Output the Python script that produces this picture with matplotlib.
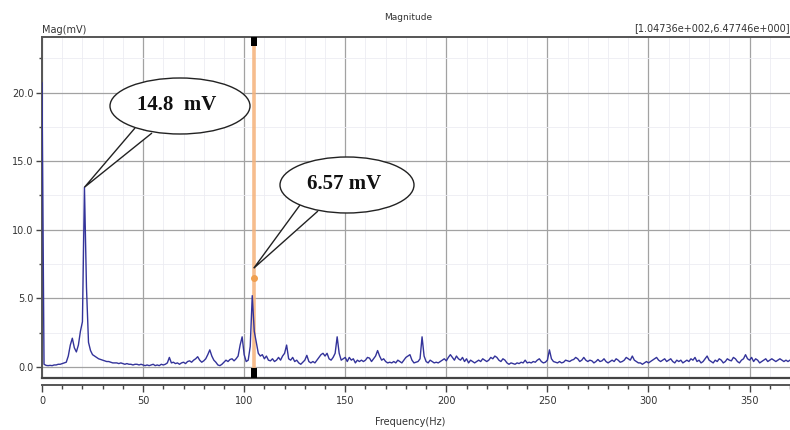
import numpy as np
import matplotlib
matplotlib.use("Agg")
import matplotlib.pyplot as plt
from matplotlib.patches import Ellipse, Polygon, Rectangle
from matplotlib.ticker import MultipleLocator
from matplotlib.transforms import blended_transform_factory

# ---- data ----
freq_step_hz = 1.0
mag_mv = [
    20.7, 0.2, 0.12, 0.1, 0.12, 0.1, 0.15, 0.15, 0.2, 0.2,
    0.25, 0.3, 0.35, 0.8, 1.6, 2.1, 1.4, 1.1, 1.6, 2.6,
    3.3, 13.1, 5.8, 1.8, 1.2, 0.9, 0.8, 0.7, 0.6, 0.55,
    0.5, 0.45, 0.4, 0.4, 0.35, 0.3, 0.3, 0.3, 0.25, 0.3,
    0.25, 0.2, 0.25, 0.2, 0.2, 0.15, 0.2, 0.2, 0.15, 0.2,
    0.15, 0.1, 0.15, 0.1, 0.15, 0.2, 0.1, 0.15, 0.1, 0.2,
    0.15, 0.2, 0.3, 0.7, 0.3, 0.35, 0.25, 0.3, 0.2, 0.3,
    0.35, 0.25, 0.4, 0.45, 0.35, 0.5, 0.6, 0.75, 0.5, 0.35,
    0.45, 0.6, 0.9, 1.25, 0.8, 0.5, 0.35, 0.15, 0.1, 0.2,
    0.35, 0.5, 0.4, 0.55, 0.6, 0.45, 0.6, 0.8, 1.6, 2.2,
    0.9, 0.4, 0.5, 1.5, 5.2, 2.6, 1.8, 1.0, 0.8, 0.9,
    0.6, 0.8, 0.5, 0.45, 0.6, 0.4, 0.5, 0.7, 0.5, 0.8,
    1.0, 1.6, 0.6, 0.5, 0.7, 0.4, 0.5, 0.3, 0.2, 0.35,
    0.5, 0.85, 0.4, 0.3, 0.4, 0.3, 0.5, 0.7, 0.9, 1.0,
    0.8, 1.0, 0.6, 0.5, 0.7, 1.0, 2.2, 1.0, 0.5, 0.6,
    0.7, 0.4, 0.7, 0.5, 0.6, 0.3, 0.5, 0.4, 0.5, 0.4,
    0.5, 0.7, 0.65, 0.4, 0.6, 0.8, 1.2, 0.8, 0.5, 0.6,
    0.4, 0.3, 0.35, 0.3, 0.4, 0.3, 0.5, 0.4, 0.3, 0.5,
    0.7, 0.8, 0.9, 0.5, 0.3, 0.35, 0.4, 0.6, 2.2, 0.8,
    0.4, 0.3, 0.5, 0.4, 0.3, 0.35, 0.3, 0.4, 0.5, 0.6,
    0.45, 0.7, 0.9, 0.7, 0.5, 0.8, 0.6, 0.5, 0.7, 0.4,
    0.6, 0.3, 0.5, 0.4, 0.3, 0.4, 0.5, 0.4, 0.6, 0.5,
    0.4, 0.5, 0.7, 0.6, 0.8, 0.7, 0.5, 0.4, 0.6, 0.5,
    0.3, 0.2, 0.3, 0.25, 0.2, 0.3, 0.25, 0.35, 0.3, 0.5,
    0.3, 0.35, 0.3, 0.4, 0.35, 0.5, 0.6, 0.4, 0.3, 0.35,
    0.5, 1.25, 0.6, 0.4, 0.35, 0.3, 0.4, 0.3, 0.35, 0.5,
    0.45, 0.4, 0.5, 0.55, 0.7, 0.6, 0.4, 0.5, 0.7, 0.5,
    0.4, 0.5, 0.45, 0.3, 0.4, 0.55, 0.4, 0.45, 0.6, 0.4,
    0.3, 0.4, 0.5, 0.4, 0.6, 0.5, 0.35, 0.4, 0.5, 0.7,
    0.6, 0.5, 0.8, 0.5, 0.4, 0.3, 0.3, 0.2, 0.3, 0.4,
    0.3, 0.4, 0.5, 0.6, 0.7, 0.5, 0.4, 0.5, 0.6, 0.4,
    0.5, 0.6, 0.4, 0.3, 0.5, 0.4, 0.5, 0.3, 0.4, 0.5,
    0.4, 0.6, 0.5, 0.7, 0.4, 0.5, 0.3, 0.4, 0.6, 0.8,
    0.5, 0.4, 0.3, 0.5, 0.4, 0.6, 0.5, 0.3, 0.4, 0.6,
    0.5, 0.45, 0.7, 0.6, 0.4, 0.3, 0.5, 0.6, 0.9, 0.6,
    0.5, 0.7, 0.4, 0.6, 0.5, 0.3, 0.4, 0.5, 0.6, 0.4,
    0.5, 0.6, 0.5, 0.4, 0.5, 0.6, 0.5, 0.4, 0.5, 0.4,
    0.5,
]
freq_hz = np.arange(len(mag_mv)) * freq_step_hz

cursor_x = 104.736
cursor_y = 6.47746
callout1_point = (21.0, 13.1)
callout1_text = "14.8  mV"
callout2_point = cursor_x
callout2_text = "6.57 mV"
x_ticks = [0, 50, 100, 150, 200, 250, 300, 350]
y_ticks = [0.0, 5.0, 10.0, 15.0, 20.0]

W, H = 790, 430
fig = plt.figure(figsize=(W / 100, H / 100), dpi=100)
fig.patch.set_facecolor("white")

ax = fig.add_axes([42 / W, 1 - 378 / H, (W - 42) / W, (378 - 37) / H])
ax.set_xlim(0, 370)
ax.set_ylim(-0.8, 24.05)

# grid
ax.xaxis.set_major_locator(MultipleLocator(50))
ax.xaxis.set_minor_locator(MultipleLocator(10))
ax.yaxis.set_major_locator(MultipleLocator(5))
ax.yaxis.set_minor_locator(MultipleLocator(2.5))
ax.grid(which="major", color="#a2a2a2", lw=0.9)
ax.grid(which="minor", color="#ececf2", lw=0.6)
ax.set_axisbelow(True)

ax.set_xticks(x_ticks)
ax.set_xticklabels([str(v) for v in x_ticks])
ax.set_yticks(y_ticks)
ax.set_yticklabels([f"{v:.1f}" for v in y_ticks])
ax.tick_params(axis="both", which="both", labelsize=7, colors="#444444",
               labelcolor="#333333")
ax.tick_params(axis="x", which="major", length=5, width=1, pad=3)
ax.tick_params(axis="x", which="minor", length=3, width=1)
ax.tick_params(axis="y", which="major", length=4, width=1, pad=2)
ax.tick_params(axis="y", which="minor", length=2, width=1)

for s in ["top", "left"]:
    ax.spines[s].set_color("#555555")
    ax.spines[s].set_linewidth(1.4)
ax.spines["right"].set_visible(False)
ax.spines["bottom"].set_position(("outward", 5))
ax.spines["bottom"].set_color("#555555")
ax.spines["bottom"].set_linewidth(1.4)
# plot-box bottom line
ax.plot([0, 1], [0, 0], transform=ax.transAxes, color="#444444", lw=1.6,
        clip_on=False, zorder=5)

# cursor
ax.axvline(cursor_x, color="#f5b27a", lw=2.6, alpha=0.85, zorder=3)

# data
ax.plot(freq_hz, mag_mv, color="#33339a", lw=1.0, zorder=4)

ax.plot([cursor_x], [cursor_y], "o", color="#f0a050", ms=4, zorder=6)

# cursor end markers (inside the plot box, touching top and bottom edges)
bt = blended_transform_factory(ax.transData, ax.transAxes)
mw = 3.0  # Hz
top_h = 9 / 341
bot_h = 10 / 341
ax.add_patch(Rectangle((cursor_x - mw / 2, 1 - top_h), mw, top_h,
                       transform=bt, facecolor="black", edgecolor="none",
                       zorder=7, clip_on=False))
ax.add_patch(Rectangle((cursor_x - mw / 2, 0), mw, bot_h,
                       transform=bt, facecolor="black", edgecolor="none",
                       zorder=7, clip_on=False))

# texts
fig.text(408 / W, 1 - 18 / H, "Magnitude", ha="center", va="center",
         fontsize=6.5, color="#333333")
fig.text(42 / W, 1 - 30 / H, "Mag(mV)", ha="left", va="center",
         fontsize=7, color="#333333")
fig.text(1.0, 1 - 28 / H, "[1.04736e+002,6.47746e+000]", ha="right",
         va="center", fontsize=7, color="#333333")
fig.text(410 / W, 1 - 422 / H, "Frequency(Hz)", ha="center", va="center",
         fontsize=7, color="#333333")

# overlay for callouts (pixel coordinates, y downward)
ov = fig.add_axes([0, 0, 1, 1], zorder=10)
ov.set_xlim(0, W)
ov.set_ylim(H, 0)
ov.axis("off")
ov.patch.set_alpha(0)


def to_px(x, y):
    d = ax.transData.transform((x, y))
    return ov.transData.inverted().transform(d)


tip1 = to_px(*callout1_point)
tip2 = to_px(callout2_point, 7.2)

for (cx, cy, w, h, txt, tip, b1, b2) in [
    (180, 106, 140, 56, callout1_text, tip1, (135, 128), (152, 133)),
    (347, 185, 134, 56, callout2_text, tip2, (300, 205), (318, 211)),
]:
    tail = Polygon([b1, tip, b2], closed=False, facecolor="white",
                   edgecolor="#222222", lw=1.0, zorder=1)
    ov.add_patch(tail)
    ell = Ellipse((cx, cy), w, h, facecolor="white", edgecolor="#222222",
                  lw=1.0, zorder=2)
    ov.add_patch(ell)
    ov.text(cx - 3, cy - 1, txt, ha="center", va="center", fontsize=15,
            fontweight="bold", family="Liberation Serif", color="#111111",
            zorder=3)

fig.savefig("out.png", dpi=100, facecolor="white")
